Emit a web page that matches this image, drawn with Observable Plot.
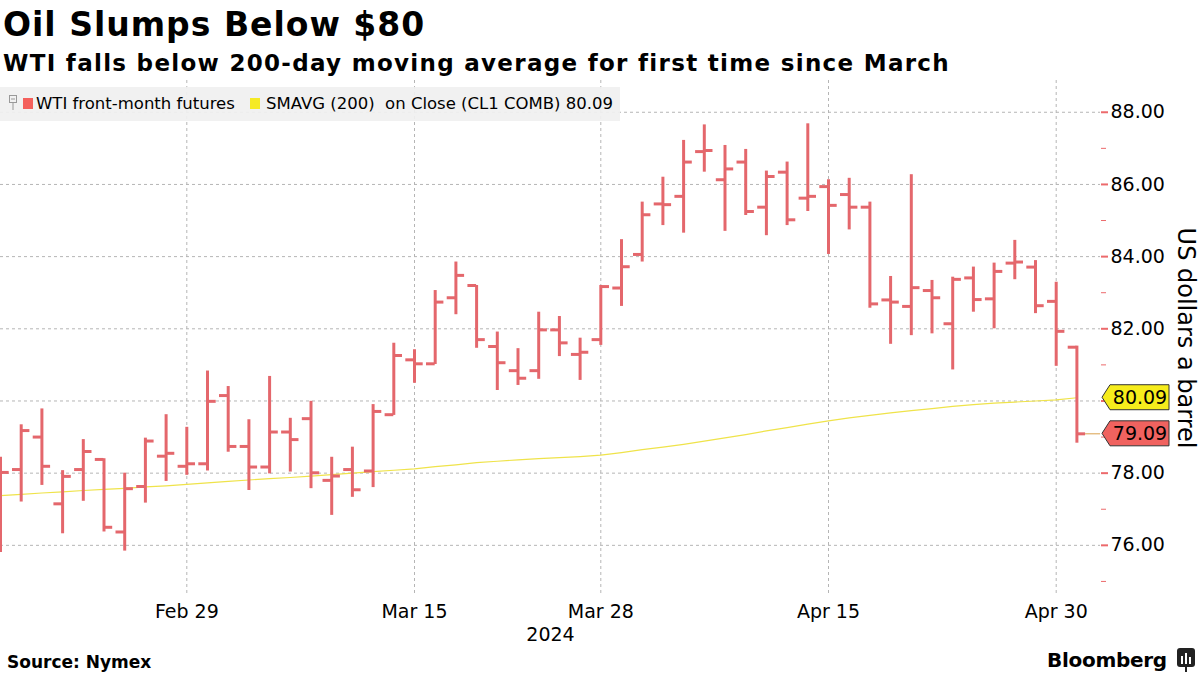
<!DOCTYPE html>
<html>
<head>
<meta charset="utf-8">
<script src="https://cdn.jsdelivr.net/npm/d3@7"></script>
<script src="https://cdn.jsdelivr.net/npm/@observablehq/plot@0.6"></script>
<style>
  html, body { margin: 0; padding: 0; background: #fff; }
  body { width: 1200px; height: 675px; position: relative; overflow: hidden; font-family: "DejaVu Sans", sans-serif; color: #000; }
  #title { position: absolute; left: 3px; top: 8px; font-size: 33px; font-weight: bold; line-height: 1; letter-spacing: 1px; white-space: nowrap; }
  #subtitle { position: absolute; left: 3px; top: 52px; font-size: 23px; font-weight: bold; line-height: 1; letter-spacing: 1.3px; white-space: nowrap; }
  #chart { position: absolute; left: 0; top: 80px; }
  #legend { position: absolute; left: 0; top: 87px; width: 620px; height: 34px; background: rgba(240,240,240,0.92); font-size: 16.5px; line-height: 34px; white-space: pre; }
  #legend span { position: absolute; top: 0; }
  .sw { position: absolute; width: 10px; height: 11px; top: 11px; }
  #source { position: absolute; left: 7px; top: 654px; font-size: 17px; font-weight: bold; line-height: 1; }
  #brand { position: absolute; left: 1047px; top: 650px; font-size: 20px; font-weight: bold; line-height: 1; letter-spacing: -0.3px; }
  #brandicon { position: absolute; left: 1177px; top: 648px; }
</style>
</head>
<body>
<div id="title">Oil Slumps Below $80</div>
<div id="subtitle">WTI falls below 200-day moving average for first time since March</div>
<div id="chart"></div>
<div id="legend">
  <svg style="position:absolute;left:9px;top:8px" width="10" height="16"><rect x="0.5" y="0.5" width="7" height="7" fill="none" stroke="#999"/><line x1="2" y1="4" x2="6" y2="4" stroke="#999"/><line x1="4" y1="8" x2="4" y2="15" stroke="#999"/></svg>
  <div class="sw" style="left:23px;background:#f4605c"></div>
  <span id="lg1" style="left:36px"></span>
  <div class="sw" style="left:250px;background:#f5ea25"></div>
  <span id="lg2" style="left:266px"></span>
</div>
<div id="source">Source: Nymex</div>
<div id="brand">Bloomberg</div>
<svg id="brandicon" width="20" height="24"><rect x="0" y="0" width="18" height="19" rx="3" fill="#222"/><path d="M9 19 L9 24" stroke="#222" stroke-width="2"/><rect x="4" y="8" width="2" height="8" fill="#fff"/><rect x="8" y="5" width="2" height="11" fill="#fff"/><rect x="12" y="9" width="2" height="7" fill="#fff"/></svg>
<script>
// ---------------- data ----------------
const dates = [
  "2024-02-15","2024-02-16","2024-02-20","2024-02-21","2024-02-22","2024-02-23","2024-02-26","2024-02-27","2024-02-28","2024-02-29",
  "2024-03-01","2024-03-04","2024-03-05","2024-03-06","2024-03-07","2024-03-08","2024-03-11","2024-03-12","2024-03-13","2024-03-14",
  "2024-03-15","2024-03-18","2024-03-19","2024-03-20","2024-03-21","2024-03-22","2024-03-25","2024-03-26","2024-03-27","2024-03-28",
  "2024-04-01","2024-04-02","2024-04-03","2024-04-04","2024-04-05","2024-04-08","2024-04-09","2024-04-10","2024-04-11","2024-04-12",
  "2024-04-15","2024-04-16","2024-04-17","2024-04-18","2024-04-19","2024-04-22","2024-04-23","2024-04-24","2024-04-25","2024-04-26",
  "2024-04-29","2024-04-30","2024-05-01"
];
const open = [
  76.60,78.10,79.00,77.15,78.10,78.38,76.37,77.63,78.47,78.19,
  78.26,80.15,78.74,78.17,79.14,79.51,77.80,78.10,78.06,79.62,
  81.14,81.03,82.86,83.20,81.51,80.84,80.84,81.97,81.29,81.70,
  83.13,84.06,85.46,85.67,86.91,86.13,86.62,85.37,86.34,85.62,
  85.94,85.72,85.37,82.80,82.62,83.06,82.14,83.41,82.83,83.82,
  83.71,82.76,81.49
];
const high = [
  78.44,79.34,79.78,78.07,78.93,78.40,78.00,78.97,79.62,79.27,
  80.83,80.40,79.48,80.68,79.52,79.99,78.44,78.72,79.90,81.60,
  81.42,83.06,83.85,83.20,81.91,81.45,82.46,82.34,81.74,83.20,
  84.47,85.51,86.20,87.22,87.65,87.08,86.97,86.37,86.62,87.68,
  86.13,86.17,85.51,83.45,86.27,83.34,83.43,83.71,83.82,84.45,
  83.89,83.29,81.52
];
const low = [
  75.80,77.20,77.66,76.32,77.22,76.37,75.84,77.17,77.77,77.94,
  78.06,78.58,77.52,77.98,78.03,77.57,76.83,77.33,77.60,79.60,
  80.49,81.01,82.39,81.46,80.29,80.43,80.60,81.23,80.57,81.54,
  82.62,83.85,84.86,84.65,86.34,84.70,85.14,84.58,84.86,85.25,
  84.06,84.74,82.57,81.57,81.81,81.86,80.86,82.46,82.00,83.36,
  82.42,80.96,78.83
];
const close = [
  78.02,79.18,78.19,77.91,78.60,76.50,77.57,78.89,78.55,78.26,
  79.99,78.74,78.17,79.14,78.93,78.01,77.92,77.54,79.71,81.26,
  81.03,82.74,83.48,81.70,81.06,80.63,81.97,81.61,81.35,83.17,
  83.72,85.16,85.44,86.62,86.94,86.43,85.25,86.22,85.02,85.67,
  85.42,85.37,82.69,82.74,83.14,82.86,83.37,82.81,83.59,83.85,
  82.64,81.93,79.09
];
const sma = [
  77.38,77.41,77.45,77.48,77.52,77.55,77.58,77.62,77.65,77.69,
  77.73,77.77,77.81,77.85,77.88,77.92,77.96,78.00,78.04,78.08,
  78.12,78.18,78.23,78.29,78.33,78.37,78.40,78.43,78.46,78.50,
  78.57,78.65,78.72,78.80,78.89,78.98,79.07,79.17,79.26,79.36,
  79.45,79.53,79.60,79.67,79.73,79.79,79.85,79.90,79.94,79.97,
  80.00,80.03,80.09
];
const xTickDates = ["2024-02-29","2024-03-15","2024-03-28","2024-04-15","2024-04-30"];
const yearLabel = ["2024"];
const yTicks = [76, 78, 80, 82, 84, 86, 88];
const yMinorTicks = [75, 77, 79, 81, 83, 85, 87];
const seriesNames = ["WTI front-month futures", "SMAVG (200)  on Close (CL1 COMB)"];
const axisTitle = "US dollars a barrel";

// ---------------- build ----------------
const data = dates.map((d, i) => ({i, date: d, open: open[i], high: high[i], low: low[i], close: close[i], sma: sma[i]}));
const last = data[data.length - 1];
const xTickIdx = xTickDates.map(d => dates.indexOf(d));
const fmtDate = d3.utcFormat("%b %-d");
const xMax = dates.length + 0.14;
const barColor = "#e4676c";
const axisColor = "#ec6a6c";
const halfTick = 0.42;

document.getElementById("lg1").textContent = seriesNames[0];
document.getElementById("lg2").textContent = seriesNames[1] + " " + last.sma.toFixed(2);

const tagData = [
  {value: last.sma, fill: "#f6ec1c"},
  {value: last.close, fill: "#f0625f"}
];
// tick labels hidden behind a value tag (as in the reference) are not drawn
const yLabel = d => tagData.some(t => Math.abs(t.value - d) < 0.6) ? "" : d.toFixed(2);

function tagsMark(index, scales, values, dims) {
  const g = d3.create("svg:g");
  const x0 = dims.width - dims.marginRight;
  for (const t of tagData) {
    const y = scales.y(t.value);
    g.append("path")
      .attr("d", `M${x0 + 2},${y} L${x0 + 10},${y - 12.5} H${x0 + 69} V${y + 12.5} H${x0 + 10} Z`)
      .attr("fill", t.fill).attr("stroke", "#333").attr("stroke-width", 1);
    g.append("text")
      .attr("x", x0 + 40).attr("y", y).attr("dy", "0.36em")
      .attr("text-anchor", "middle").attr("font-size", 19).attr("fill", "#000")
      .text(t.value.toFixed(2));
  }
  return g.node();
}

const chart = Plot.plot({
  width: 1200,
  height: 570,
  marginTop: 0,
  marginBottom: 55,
  marginLeft: 0,
  marginRight: 100,
  style: {fontFamily: "DejaVu Sans", fontSize: "19px", color: "#000", background: "transparent", overflow: "visible"},
  x: {type: "linear", domain: [0, xMax]},
  y: {domain: [74.61, 88.88]},
  marks: [
    Plot.gridY(yTicks, {stroke: "#b5b5b5", strokeOpacity: 1, strokeDasharray: "3,3"}),
    Plot.gridX(xTickIdx, {stroke: "#b5b5b5", strokeOpacity: 1, strokeDasharray: "3,3"}),
    Plot.line(data, {x: "i", y: "sma", stroke: "#efe34a", strokeWidth: 1.2}),
    Plot.ruleX(data, {x: "i", y1: "low", y2: "high", stroke: barColor, strokeWidth: 3}),
    Plot.ruleY(data, {y: "open", x1: d => d.i - halfTick, x2: "i", stroke: barColor, strokeWidth: 3}),
    Plot.ruleY(data, {y: "close", x1: "i", x2: d => d.i + halfTick, stroke: barColor, strokeWidth: 3}),
    Plot.ruleY([last], {y: "close", x1: d => d.i + halfTick, x2: () => xMax, stroke: "#d9a04c", strokeWidth: 1}),
    Plot.axisY(yMinorTicks, {anchor: "right", tickSize: 5, tickFormat: () => "", stroke: axisColor, label: null}),
    Plot.axisY(yTicks, {anchor: "right", line: true, tickSize: 7, tickPadding: 3, strokeWidth: 2, tickFormat: yLabel, stroke: axisColor, fill: "#000", label: null}),
    Plot.axisX(xTickIdx, {anchor: "bottom", tickSize: 0, tickPadding: 9, tickFormat: i => fmtDate(new Date(dates[i])), fill: "#000", label: null}),
    Plot.text(yearLabel, {frameAnchor: "bottom", text: d => d, lineAnchor: "middle", dy: 39, fill: "#000"}),
    Plot.text([axisTitle], {frameAnchor: "right", text: d => d, rotate: 90, textAnchor: "middle", lineAnchor: "middle", dx: 85, fontSize: 24, fill: "#000"}),
    tagsMark
  ]
});
document.getElementById("chart").appendChild(chart);
</script>
</body>
</html>
